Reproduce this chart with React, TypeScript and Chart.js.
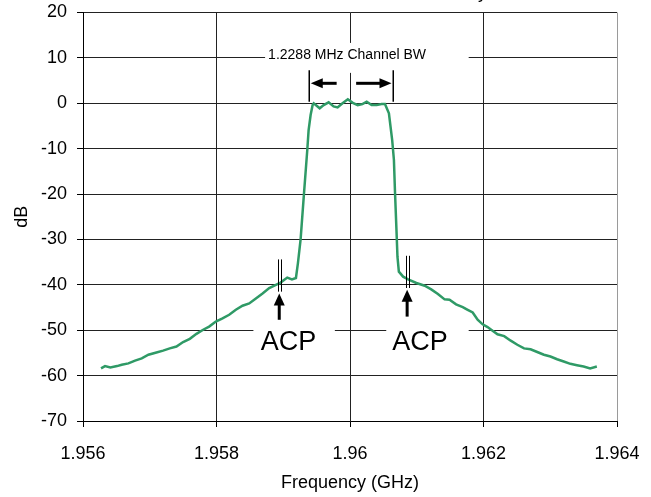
import React, { useEffect, useRef } from "react";
import { Chart, registerables } from "chart.js";

Chart.register(...registerables);

// ---- data ----
const freqGHz = [
  1.95627, 1.95633, 1.95641, 1.95651, 1.95658, 1.95668, 1.95678, 1.95688, 1.95698, 1.9571,
  1.9572, 1.9573, 1.9574, 1.9575, 1.9576, 1.9577, 1.9578, 1.95789, 1.95799, 1.95809,
  1.95819, 1.95829, 1.95839, 1.95849, 1.95859, 1.95869, 1.95879, 1.95889, 1.95896, 1.95906,
  1.95913, 1.95919, 1.95922, 1.95926, 1.95931, 1.95936, 1.95938, 1.95941, 1.95944, 1.959457,
  1.959546, 1.959606, 1.95968, 1.959754, 1.959814, 1.959888, 1.959967, 1.960042, 1.960116, 1.960186,
  1.96025, 1.960324, 1.960399, 1.960473, 1.960524, 1.960583, 1.960632, 1.960658, 1.960673, 1.960696,
  1.960711, 1.960732, 1.960796, 1.960871, 1.960994, 1.961119, 1.961217, 1.961317, 1.961417, 1.961491,
  1.961589, 1.961689, 1.961763, 1.961838, 1.961912, 1.961987, 1.962061, 1.962136, 1.96221, 1.96231,
  1.962408, 1.962507, 1.962607, 1.962705, 1.962805, 1.962905, 1.963003, 1.963103, 1.963202, 1.963301,
  1.9634, 1.9635, 1.963598, 1.963698,
];
const levelDb = [
  -58.4, -57.9, -58.2, -57.9, -57.6, -57.3, -56.7, -56.2, -55.4, -54.9,
  -54.5, -54.0, -53.6, -52.6, -51.9, -50.8, -49.9, -49.2, -48.1, -47.4,
  -46.6, -45.5, -44.6, -44.1, -43.0, -41.9, -40.7, -40.0, -39.5, -38.4,
  -38.8, -38.5, -35.2, -30.0, -20.0, -10.3, -5.9, -2.6, -0.4, 0.0,
  -1.1, -0.4, 0.2, -0.7, -0.9, 0.0, 0.9, 0.1, -0.4, -0.2,
  0.35, -0.4, -0.4, -0.15, -0.15, -2.2, -8.1, -12.5, -19.1, -27.9,
  -33.8, -37.1, -38.2, -38.8, -39.6, -40.2, -41.0, -42.0, -43.2, -43.3,
  -44.3, -44.9, -45.5, -46.1, -47.7, -48.7, -49.3, -50.1, -50.9, -51.3,
  -52.3, -53.2, -54.0, -54.2, -54.8, -55.4, -55.8, -56.4, -56.9, -57.4,
  -57.7, -58.0, -58.4, -58.0,
];

const xTickValues = [1.956, 1.958, 1.96, 1.962, 1.964];
const xTickLabels = ["1.956", "1.958", "1.96", "1.962", "1.964"];
const yRange = [-70, 20];

// annotations (in data units)
const bwLabel = "1.2288 MHz Channel BW";
const bwLabelBox = [1.958728, 1.961778, 6.7, 13.3]; // x0, x1, y0, y1
const bwLabelPos = [1.958773, 9.7];
const channelEdges = [1.9593824, 1.960637];
const channelBarDb = [0.35, 7.3];
const channelArrowDb = 4.4;
const channelArrowTail = [1.9598, 1.960092];

const acpLabel = "ACP";
const acpLabelX = [1.959077, 1.961049];
const acpLabelDb = -54.3;
const acpBoxes = [
  [1.958553, 1.959773],
  [1.960543, 1.961778],
];
const acpBoxDb = [-55.7, -47.5];
const acpLinePairs = [
  [1.958926, 1.95897],
  [1.960845, 1.960885],
];
const acpLineDb = [
  [-34.4, -41.5],
  [-33.6, -40.7],
];
const acpArrowX = [1.95894, 1.960856];
const acpArrowDb = [
  [-47.7, -41.9],
  [-47.0, -41.1],
];
const chartTitle = "Channel Power Density";

const FONT = "'Liberation Sans', Arial, Helvetica, sans-serif";

function arrowHead(ctx: CanvasRenderingContext2D, tx: number, ty: number, dx: number, dy: number, len: number, half: number) {
  const bx = tx - dx * len;
  const by = ty - dy * len;
  ctx.beginPath();
  ctx.moveTo(tx, ty);
  ctx.lineTo(bx - dy * half, by + dx * half);
  ctx.lineTo(bx + dy * half, by - dx * half);
  ctx.closePath();
  ctx.fill();
}

const annotationPlugin = {
  id: "annots",
  beforeDatasetsDraw(chart: any) {
    const { ctx, scales } = chart;
    const x = scales.x, y = scales.y;
    ctx.save();
    ctx.fillStyle = "#ffffff";
    {
      const x0 = x.getPixelForValue(bwLabelBox[0]);
      const x1 = x.getPixelForValue(bwLabelBox[1]);
      const y0 = y.getPixelForValue(bwLabelBox[3]);
      const y1 = y.getPixelForValue(bwLabelBox[2]);
      ctx.fillRect(x0, y0, x1 - x0, y1 - y0);
    }
    for (const b of acpBoxes) {
      const x0 = x.getPixelForValue(b[0]);
      const x1 = x.getPixelForValue(b[1]);
      const y0 = y.getPixelForValue(acpBoxDb[1]);
      const y1 = y.getPixelForValue(acpBoxDb[0]);
      ctx.fillRect(x0, y0, x1 - x0, y1 - y0);
    }
    ctx.restore();
  },
  afterDraw(chart: any) {
    const { ctx, scales } = chart;
    const x = scales.x, y = scales.y;
    ctx.save();
    ctx.fillStyle = "#000";
    ctx.strokeStyle = "#000";
    ctx.font = `14px ${FONT}`;
    ctx.textAlign = "left";
    ctx.textBaseline = "alphabetic";
    ctx.fillText(bwLabel, x.getPixelForValue(bwLabelPos[0]), y.getPixelForValue(bwLabelPos[1]));
    ctx.lineWidth = 1.5;
    for (const e of channelEdges) {
      const px = Math.round(x.getPixelForValue(e)) + 0.25;
      ctx.beginPath();
      ctx.moveTo(px, y.getPixelForValue(channelBarDb[1]));
      ctx.lineTo(px, y.getPixelForValue(channelBarDb[0]));
      ctx.stroke();
    }
    const ay = y.getPixelForValue(channelArrowDb);
    ctx.lineWidth = 3;
    {
      const tail = x.getPixelForValue(channelArrowTail[0]);
      const tip = x.getPixelForValue(channelEdges[0]) + 2;
      ctx.beginPath();
      ctx.moveTo(tail, ay);
      ctx.lineTo(tip + 8, ay);
      ctx.stroke();
      arrowHead(ctx, tip, ay, -1, 0, 12, 5);
    }
    {
      const tail = x.getPixelForValue(channelArrowTail[1]);
      const tip = x.getPixelForValue(channelEdges[1]) - 1;
      ctx.beginPath();
      ctx.moveTo(tail, ay);
      ctx.lineTo(tip - 8, ay);
      ctx.stroke();
      arrowHead(ctx, tip, ay, 1, 0, 12, 5);
    }
    ctx.lineWidth = 1;
    acpLinePairs.forEach((pair, i) => {
      for (const v of pair) {
        const px = Math.round(x.getPixelForValue(v)) + 0.5;
        ctx.beginPath();
        ctx.moveTo(px, y.getPixelForValue(acpLineDb[i][0]));
        ctx.lineTo(px, y.getPixelForValue(acpLineDb[i][1]));
        ctx.stroke();
      }
      const axp = x.getPixelForValue(acpArrowX[i]);
      const yTail = y.getPixelForValue(acpArrowDb[i][0]);
      const yTip = y.getPixelForValue(acpArrowDb[i][1]);
      ctx.lineWidth = 3;
      ctx.beginPath();
      ctx.moveTo(axp, yTail);
      ctx.lineTo(axp, yTip + 8);
      ctx.stroke();
      arrowHead(ctx, axp, yTip, 0, -1, 12, 5.5);
      ctx.lineWidth = 1;
    });
    ctx.font = `27px ${FONT}`;
    ctx.textAlign = "center";
    for (const lx of acpLabelX) {
      ctx.fillText(acpLabel, x.getPixelForValue(lx), y.getPixelForValue(acpLabelDb));
    }
    // title, clipped by the top edge (only the descender is visible)
    ctx.font = `18px ${FONT}`;
    ctx.textAlign = "right";
    ctx.fillText(chartTitle, 487, -2);
    ctx.restore();
  },
};

export default function App() {
  const ref = useRef<HTMLCanvasElement | null>(null);
  useEffect(() => {
    if (!ref.current) return;
    const chart = new Chart(ref.current, {
      type: "line",
      data: {
        datasets: [
          {
            data: freqGHz.map((f, i) => ({ x: f, y: levelDb[i] })),
            borderColor: "#2f9a66",
            borderWidth: 2.5,
            pointRadius: 0,
            tension: 0,
            fill: false,
          },
        ],
      },
      options: {
        animation: false,
        responsive: false,
        events: [],
        layout: { padding: { left: 0, right: 34, top: 12.5, bottom: 0 } },
        plugins: { legend: { display: false }, tooltip: { enabled: false }, title: { display: false } },
        scales: {
          x: {
            type: "linear",
            min: xTickValues[0],
            max: xTickValues[xTickValues.length - 1],
            afterBuildTicks: (scale: any) => {
              scale.ticks = xTickValues.map((v) => ({ value: v }));
            },
            afterFit: (scale: any) => {
              scale.height = 76;
              scale.paddingLeft = 0;
              scale.paddingRight = 0;
            },
            ticks: {
              callback: (_v: any, i: number) => xTickLabels[i],
              color: "#000",
              font: { family: FONT, size: 18 },
              padding: 16,
              maxRotation: 0,
              autoSkip: false,
            },
            grid: {
              color: (c: any) => (c.index === xTickValues.length - 1 ? "#9a9a9a" : "#222"),
              tickColor: "#000",
              tickLength: 6,
              lineWidth: 1,
            },
            border: { color: "#000", width: 1 },
            title: {
              display: true,
              text: "Frequency (GHz)",
              color: "#000",
              font: { family: FONT, size: 18 },
              padding: { top: 0, bottom: 3 },
            },
          },
          y: {
            min: yRange[0],
            max: yRange[1],
            afterFit: (scale: any) => {
              scale.width = 83;
              scale.paddingTop = 0;
              scale.paddingBottom = 0;
            },
            ticks: {
              stepSize: 10,
              color: "#000",
              font: { family: FONT, size: 18 },
              padding: 10,
            },
            grid: {
              color: "#222",
              tickColor: "#000",
              tickLength: 6,
              lineWidth: 1,
            },
            border: { color: "#000", width: 1 },
            title: {
              display: true,
              text: "dB",
              color: "#000",
              font: { family: FONT, size: 18 },
              padding: { top: 11, bottom: 0 },
            },
          },
        },
      },
      plugins: [annotationPlugin],
    });
    return () => chart.destroy();
  }, []);
  return (
    <div style={{ position: "absolute", left: 0, top: 0, width: 651, height: 497, background: "#fff" }}>
      <canvas ref={ref} width={651} height={497} style={{ display: "block" }} />
    </div>
  );
}
